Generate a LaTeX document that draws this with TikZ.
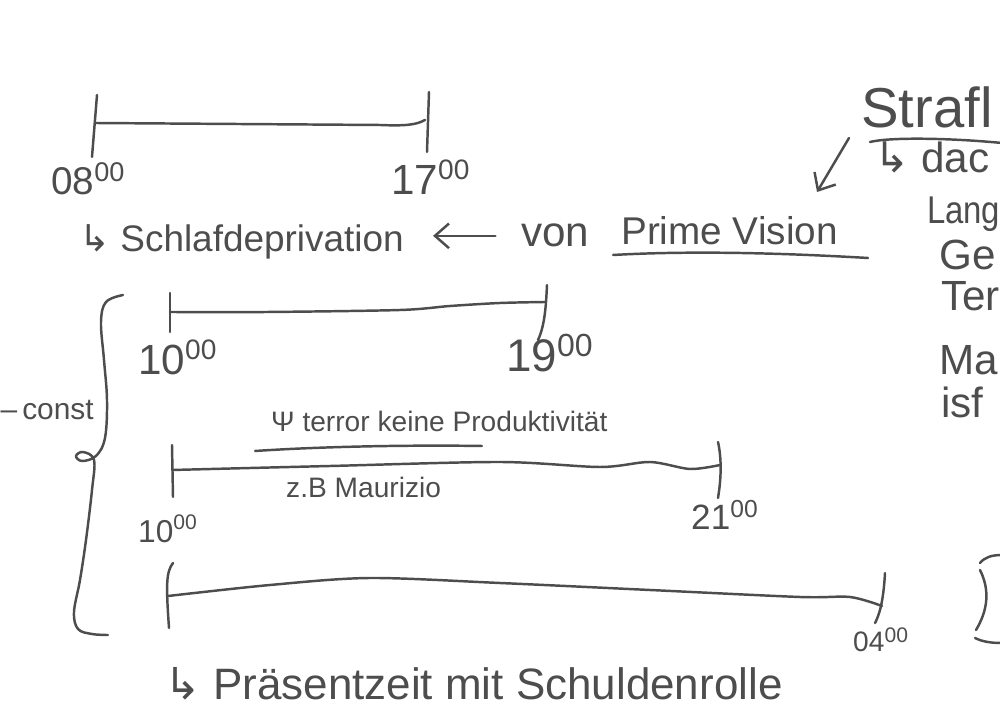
\documentclass[tikz,border=0pt]{standalone}
\usepackage{fontspec}
\setmainfont{Liberation Sans}
\newfontfamily\arrowfont{DejaVu Sans}
\usepackage{tikz}
\usetikzlibrary{arrows.meta}

\definecolor{ink}{HTML}{4D4D4D}
\newcommand{\oclock}[1]{#1\textsuperscript{00}}
\newcommand{\hookto}{{\arrowfont ↳}}

\begin{document}
\begin{tikzpicture}[
  x=0.01cm, y=-0.01cm,
  line width=0.7pt, line cap=round, line join=round,
  every node/.style={inner sep=0pt, text=ink},
  hand/.style     ={font=\fontsize{#1}{#1}\selectfont},
  hand/.default=12,
  clock/.style    ={hand=#1, anchor=base west},
  note/.style     ={hand=#1, anchor=base west},
  timetick/.style ={draw=ink},
  timebar/.style  ={draw=ink},
  arrow/.style    ={draw=ink, -{Straight Barb[length=4pt,width=7pt]}},
]
\useasboundingbox (0,0) rectangle (1000,707);
\clip (0,0) rectangle (1000,707);

% Timeline 08-17
\draw[timetick] (97,95) -- (92,157);
\draw[timetick] (429,92) -- (427,152);
\draw[timebar] (95,123) -- (380,125) .. controls (405,126) and (416,125) .. (425,120);
\node[clock=11] (t08) at (50,195) {\oclock{08}};
\node[clock=12] (t17) at (390,195) {\oclock{17}};

% Schlafdeprivation <- von Prime Vision
\node[note=10.5] (schlaf) at (78,252) {\hookto\ Schlafdeprivation};
\node[note=12]   (von)    at (520,247) {von};
\node[note=11]   (prime)  at (620,245) {Prime Vision};
\draw[timebar] (613,255) .. controls (700,250) and (800,254) .. (868,258);
\draw[arrow, shorten <=7pt, shorten >=8pt] (von.west) -- (schlaf.east |- von.west);

% Strafl... column at the right edge
\node[note=16] (strafl) at (860,128) {Strafl};
\draw[timebar] (870,142) .. controls (890,137) and (950,138) .. (1002,143);
\node[note=12] (dac)  at (873,173) {\hookto\ dac};
\node[note=11, xscale=0.85] (lang) at (926,224) {Lang};
\node[note=12] (ge)   at (938,270) {Ge};
\node[note=12] (ter)  at (940,311) {Ter};
\node[note=12] (ma)   at (938,375) {Ma};
\node[note=12] (isf)  at (940,418) {isf};
\coordinate (strafltail) at (849,138);
\coordinate (primehead)  at (817,192);
\draw[arrow] (strafltail) -- (primehead);

% Brace and const
\draw[timebar] plot[smooth, tension=0.6] coordinates {(123,295) (106,302) (101,322) (104,360)
  (107,400) (105,438) (96,456) (82,461) (76,456) (83,452) (94,460) (92,490) (86,540) (80,580)
  (74,612) (78,629) (92,634) (108,635)};
\node[hand=8.5, anchor=base east] (const) at (95,420) {–\,const};

% Timeline 10-19
\draw[timetick] (170,293) -- (170,332);
\draw[timetick] (547,285) .. controls (546,305) and (545,325) .. (538,340);
\draw[timebar] plot[smooth, tension=0.5] coordinates {(170,312) (267,312) (400,310) (450,306) (500,303) (545,302)};
\node[clock=12] (t10a) at (137,375) {\oclock{10}};
\node[clock=13] (t19)  at (505,372) {\oclock{19}};

% Timeline 10-21
\node[note=8] (terror) at (270,432) {Ψ terror keine Produktivität};
\draw[timebar] (255,451) .. controls (330,446) and (420,445) .. (482,446);
\draw[timetick] (172,445) -- (173,497);
\draw[timetick] (718,442) .. controls (722,460) and (721,480) .. (718,498);
\draw[timebar] plot[smooth, tension=0.5] coordinates {(172,470) (330,466) (500,462) (600,467) (650,462) (690,469) (720,465)};
\node[note=8] (zb) at (285,498) {z.B Maurizio};
\node[clock=9]  (t10b) at (137,543) {\oclock{10}};
\node[clock=10] (t21)  at (690,530) {\oclock{21}};

% Timeline 10-04
\draw[timetick] (173,563) .. controls (166,572) and (166,585) .. (169,628);
\draw[timetick] (885,573) .. controls (884,590) and (882,610) .. (875,623);
\draw[timebar] plot[smooth, tension=0.5] coordinates {(168,596) (270,585) (370,578) (500,583) (650,590) (800,597) (850,597) (882,606)};
\node[clock=8] (t04) at (852,652) {\oclock{04}};

% bracket at the right edge
\draw[timebar] (980,563) .. controls (985,557) and (992,555) .. (1002,555);
\draw[timebar] (980,570) .. controls (990,590) and (988,610) .. (976,630);
\draw[timebar] (975,638) .. controls (983,642) and (992,643) .. (1002,643);

% Präsentzeit
\node[note=12.5] (praesenz) at (163,700) {\hookto\ Präsentzeit mit Schuldenrolle};

\end{tikzpicture}
\end{document}
